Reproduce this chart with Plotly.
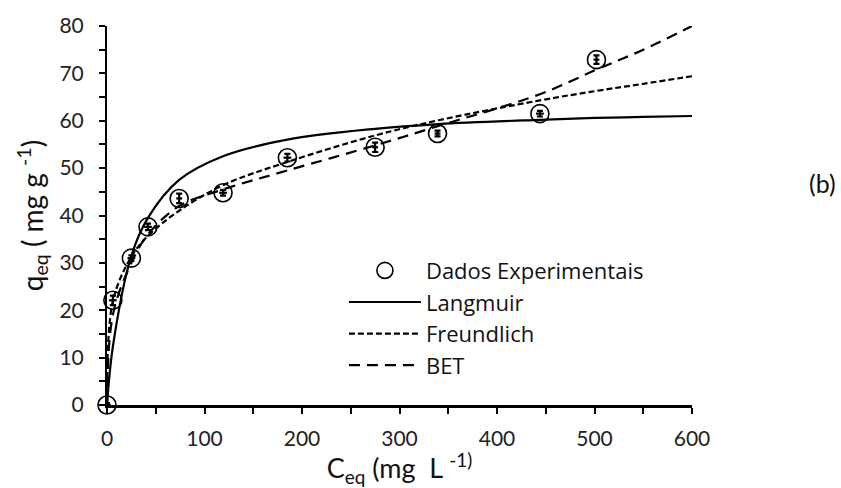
import plotly.graph_objects as go

# Experimental data
c_exp = [0, 6, 25, 42, 74, 119, 185, 275, 339, 444, 502]
q_exp = [0, 22.1, 31.0, 37.6, 43.6, 44.8, 52.2, 54.4, 57.3, 61.5, 72.9]
q_err = [0.4, 1.0, 0.6, 0.7, 1.0, 0.6, 0.8, 1.0, 0.6, 0.6, 0.9]
c_err = [4, 4, 4, 4, 3, 4, 4, 3, 3, 4, 3]

# Model curves
c_model = [0, 6, 25, 42, 74, 119, 185, 275, 340, 444, 502, 550, 600]
q_langmuir = [0, 12.3, 31.5, 39.5, 47.5, 52.5, 56.0, 58.3, 59.3, 60.2, 60.6, 60.8, 61.0]
q_freundlich = [0, 21.9, 31.3, 35.7, 41.0, 46.4, 51.3, 56.9, 60.1, 64.3, 66.3, 67.8, 69.4]
q_bet = [0, 19.0, 30.0, 36.0, 42.0, 45.5, 49.5, 54.8, 58.9, 65.6, 70.8, 75.0, 80.0]

x_ticks = [0, 100, 200, 300, 400, 500, 600]
y_ticks = [0, 10, 20, 30, 40, 50, 60, 70, 80]

FONT = "Lato"
LFONT = "Open Sans"

fig = go.Figure()

fig.add_trace(go.Scatter(
    x=c_exp, y=q_exp, mode="markers", name="Dados Experimentais",
    marker=dict(symbol="circle-open", size=18, color="black", line=dict(width=1.6, color="black")),
    error_y=dict(type="data", array=q_err, color="black", thickness=2.2, width=3),
    error_x=dict(type="data", array=c_err, color="black", thickness=2.2, width=0),
    cliponaxis=False,
))
fig.add_trace(go.Scatter(
    x=c_model, y=q_langmuir, mode="lines", name="Langmuir",
    line=dict(color="black", width=2.2, shape="spline", smoothing=1.0),
))
fig.add_trace(go.Scatter(
    x=c_model, y=q_freundlich, mode="lines", name="Freundlich",
    line=dict(color="black", width=2.2, dash="6px,3px", shape="spline", smoothing=1.0),
))
fig.add_trace(go.Scatter(
    x=c_model, y=q_bet, mode="lines", name="BET",
    line=dict(color="black", width=2.2, dash="11px,7px", shape="spline", smoothing=1.0),
))

fig.update_layout(
    width=841, height=488,
    margin=dict(l=107, r=149, t=20, b=83),
    paper_bgcolor="white", plot_bgcolor="white",
    font=dict(family=FONT, size=21, color="#222"),
    showlegend=True,
    legend=dict(
        x=0.405, y=0.41, xanchor="left", yanchor="top",
        bgcolor="rgba(0,0,0,0)", font=dict(size=22, family=LFONT, color="#111"),
        tracegroupgap=0, itemwidth=72,
    ),
    annotations=[dict(
        text="(b)", x=1.25, y=0.585, xref="paper", yref="paper",
        showarrow=False, font=dict(size=25, family=FONT, color="#111"),
    )],
)

fig.update_xaxes(
    range=[0, 600], tickvals=x_ticks, ticktext=[str(v) for v in x_ticks],
    showgrid=False, zeroline=False,
    showline=True, linecolor="black", linewidth=3,
    ticks="outside", ticklen=6, tickwidth=2, tickcolor="black",
    minor=dict(dtick=50, ticks="outside", ticklen=6, tickwidth=2, tickcolor="black"),
    ticklabelstandoff=7,
    tickfont=dict(size=21, family=FONT, color="#222"),
    title=dict(text="C<sub>eq</sub> (mg  L <sup>-1)</sup>", font=dict(size=27, family=FONT, color="#111"), standoff=2),
)
fig.update_yaxes(
    range=[0, 80], tickvals=y_ticks, ticktext=[str(v) for v in y_ticks],
    showgrid=False, zeroline=False,
    showline=True, linecolor="black", linewidth=2,
    ticks="outside", ticklen=6, tickwidth=2, tickcolor="black",
    minor=dict(dtick=5, ticks="outside", ticklen=6, tickwidth=2, tickcolor="black"),
    ticklabelstandoff=11,
    tickfont=dict(size=21, family=FONT, color="#222"),
    title=dict(text="q<sub>eq</sub> ( mg g <sup>-1</sup>)", font=dict(size=28, family=FONT, color="#111"), standoff=8),
)

fig.write_html("out.html")
